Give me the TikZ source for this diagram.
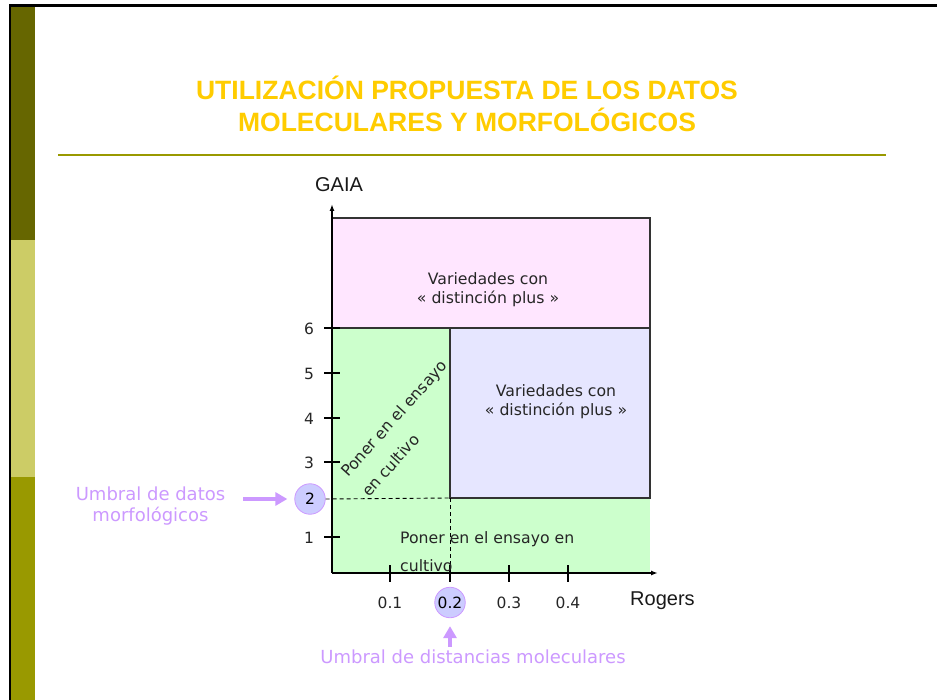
\documentclass[tikz,border=0pt]{standalone}
\usepackage{fontspec}
\setmainfont{DejaVu Sans}
\newfontfamily\arialf{Liberation Sans}
\usetikzlibrary{arrows.meta}
\definecolor{darkolive}{HTML}{666600}
\definecolor{lightolive}{HTML}{CCCC66}
\definecolor{midolive}{HTML}{999900}
\definecolor{gold}{HTML}{FFCC00}
\definecolor{pinkfill}{HTML}{FFE6FF}
\definecolor{greenfill}{HTML}{CCFFCC}
\definecolor{bluefill}{HTML}{E6E6FF}
\definecolor{umbral}{HTML}{CC99FF}
\definecolor{circfill}{HTML}{CCCCFF}
\begin{document}
\begin{tikzpicture}[x=1pt,y=-1pt,
  titletext/.style={text=gold,font=\arialf\bfseries\fontsize{26.5}{32}\selectfont,align=center,inner sep=0},
  regiontext/.style={font=\fontsize{15.7}{19}\selectfont,align=center,inner sep=0,text=black!85},
  ticklabel/.style={font=\fontsize{15.5}{18}\selectfont,inner sep=0,text=black!85},
  axislabel/.style={font=\arialf\fontsize{20}{24}\selectfont,inner sep=0,text=black!90},
  umbraltext/.style={font=\fontsize{18}{21}\selectfont,text=umbral,align=center,inner sep=0},
  markcircle/.style={circle,minimum size=30.5pt,inner sep=0,fill=circfill,draw=umbral,line width=0.8pt,font=\fontsize{15.5}{18}\selectfont},
  bigarrow/.style={draw=umbral,line width=4pt,-{Triangle[length=12pt,width=13pt]}},
  axisline/.style={line width=1.4pt,-{Latex[length=7pt,width=5pt]}},
  boxline/.style={draw=black!80,line width=1.1pt},
  tickline/.style={line width=1.1pt},
  guide/.style={dashed,dash pattern=on 4pt off 3pt,line width=0.9pt}]
\useasboundingbox (0,0) rectangle (937,700);
\fill[white] (0,0) rectangle (937,700);
% side bars and frame
\fill[darkolive] (11,6) rectangle (35,240);
\fill[lightolive] (11,240) rectangle (35,477);
\fill[midolive] (11,477) rectangle (35,700);
\draw[line width=2.5pt] (10,700) -- (10,5.5) -- (937,5.5);
\draw[midolive,line width=2pt] (58,155) -- (886,155);
% title
\node[titletext] (title) at (467,104) {UTILIZACIÓN PROPUESTA DE LOS DATOS\\MOLECULARES Y MORFOLÓGICOS};
% regions
\fill[greenfill] (332,328) rectangle (450,573);
\fill[greenfill] (450,498) rectangle (650,573);
\filldraw[fill=pinkfill,boxline] (332,218) rectangle (650,328);
\filldraw[fill=bluefill,boxline] (450,328) rectangle (650,498);
% axes
\coordinate (O) at (332,573);
\coordinate (ytop) at (332,204);
\coordinate (xend) at (658,573);
\draw[axisline] (O) -- (ytop);
\draw[axisline] (O) -- (xend);
\node[axislabel] (gaia) at (339,185) {GAIA};
\node[axislabel,anchor=base west] (rogers) at (630,605) {Rogers};
% y ticks
\foreach \v/\yy in {6/328,5/373,4/418,3/462,1/537}{
  \draw[tickline] (324,\yy) -- (340,\yy);
  \node[ticklabel] (y\v) at (309,\yy+1) {\v};
}
% x ticks
\foreach \n/\xx in {1/390,2/450,3/509,4/568}{
  \draw[tickline] (\xx,565) -- (\xx,582);
}
\node[ticklabel,anchor=base] (x1) at (390,608) {0.1};
\node[ticklabel,anchor=base] (x3) at (509,608) {0.3};
\node[ticklabel,anchor=base] (x4) at (568,608) {0.4};
% threshold circles
\node[markcircle] (c2) at (310,499) {2};
\node[markcircle] (c02) at (450,602.5) {0.2};
\coordinate (corner) at (450,498);
\coordinate (xaxis2) at (450,573);
\draw[guide] (c2.east) -- (corner);
\draw[guide] (corner) -- (xaxis2);
% region texts
\node[regiontext] (pinktxt) at (488,289.5) {Variedades con\\« distinción plus »};
\node[regiontext] (bluetxt) at (556,401.5) {Variedades con\\« distinción plus »};
\node[regiontext,rotate=48,anchor=base west] (rot1) at (348,478) {Poner en el ensayo};
\node[regiontext,rotate=48,anchor=base west] (rot2) at (369,498) {en cultivo};
\node[regiontext,anchor=base west] (bot1) at (400,543) {Poner en el ensayo en};
\node[regiontext,anchor=base west] (bot2) at (400,571) {cultivo};
% threshold labels and arrows
\node[umbraltext] (umbL) at (150.5,506.5) {Umbral de datos\\morfológicos};
\node[umbraltext,anchor=base] (umbB) at (473,663) {Umbral de distancias moleculares};
\coordinate (arrL) at (243,499);
\coordinate (arrB) at (450,647);
\draw[bigarrow,shorten >=7pt] (arrL) -- (c2);
\draw[bigarrow,shorten >=8pt] (arrB) -- (c02);
\end{tikzpicture}
\end{document}
